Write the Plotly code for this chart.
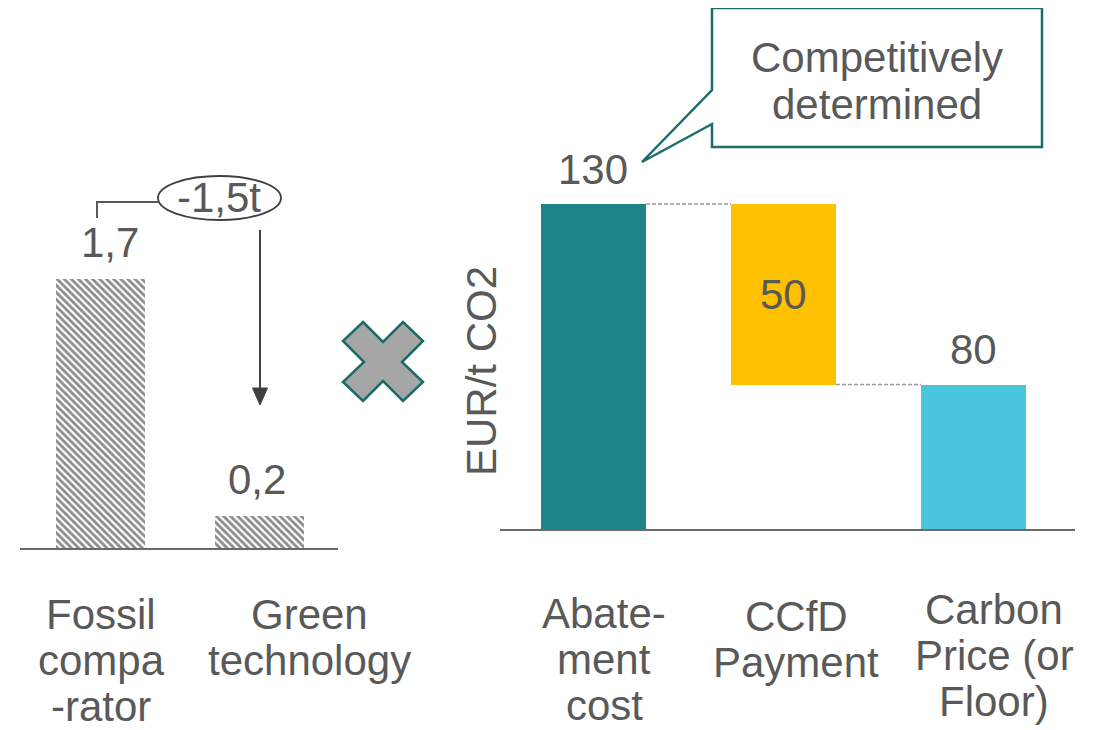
import plotly.graph_objects as go

W, H = 1101, 730
OFF = 8  # page body margin in the browser

# ---------------- data ----------------
left_categories = ["Fossil<br>compa<br>-rator", "Green<br>technology"]
left_values = [1.7, 0.2]
reduction_label = "-1,5t"

right_categories = ["Abate-<br>ment<br>cost", "CCfD<br>Payment", "Carbon<br>Price (or<br>Floor)"]
right_values = [130, 50, 80]
right_bases = [0, 80, 0]
right_colors = ["#1F8489", "#FFC000", "#4BC5DD"]
y_title = "EUR/t CO2"
callout_lines = ["Competitively", "determined"]

# ---------------- layout helpers ----------------
FONT = "Liberation Sans, Arial, sans-serif"
TXT = "#595959"
FS = 42


def X(px):
    return (px - OFF) / W


def Y(py):
    return 1 - (py - OFF) / H


fig = go.Figure()

# left: hatched bars
fig.add_trace(go.Bar(
    x=list(range(len(left_values))), y=left_values, width=0.56,
    marker=dict(color="white", line=dict(width=0),
                pattern=dict(shape="\\", size=5, solidity=0.55,
                             fgcolor="#1A1A1A", bgcolor="white")),
    xaxis="x", yaxis="y", showlegend=False, hoverinfo="skip",
))

# right: floating bars
fig.add_trace(go.Bar(
    x=list(range(len(right_values))), y=right_values, base=right_bases,
    width=0.553, marker=dict(color=right_colors, line=dict(width=0)),
    xaxis="x2", yaxis="y2", showlegend=False, hoverinfo="skip",
))

left_px_per_unit = 269 / 1.7
right_px_per_unit = 325 / 90

fig.update_layout(
    width=W, height=H, margin=dict(l=0, r=0, t=0, b=0),
    paper_bgcolor="white", plot_bgcolor="white",
    font=dict(family=FONT, color=TXT, size=FS),
    bargap=0,
    xaxis=dict(domain=[X(20), X(338)], range=[-0.506, 1.494], anchor="y",
               showgrid=False, zeroline=False, showticklabels=False, ticks="",
               showline=True, linecolor="#6A6A6A", linewidth=2),
    yaxis=dict(domain=[Y(548), Y(150)], range=[0, (548 - 150) / left_px_per_unit],
               anchor="x", showgrid=False, zeroline=False, showticklabels=False,
               showline=False),
    xaxis2=dict(domain=[X(500), X(1075)], range=[-0.492, 2.534], anchor="y2",
                showgrid=False, zeroline=False, showticklabels=False, ticks="",
                showline=True, linecolor="#6A6A6A", linewidth=2),
    yaxis2=dict(domain=[Y(529), Y(100)], range=[40, 40 + (529 - 100) / right_px_per_unit],
                anchor="x2", showgrid=False, zeroline=False, showticklabels=False,
                showline=False),
)

ann = []
shapes = []

# value labels left
left_xshift = [10, -2]
for i, v in enumerate(left_values):
    ann.append(dict(x=i, y=v, xref="x", yref="y", yshift=37, xshift=left_xshift[i],
                    text=f"{v:.1f}".replace(".", ","), showarrow=False,
                    font=dict(size=FS, color=TXT), yanchor="middle"))

# value labels right
for i, (v, b) in enumerate(zip(right_values, right_bases)):
    if b > 0:
        ann.append(dict(x=i, y=b + v / 2, xref="x2", yref="y2",
                        text=f"{v}", showarrow=False,
                        font=dict(size=FS, color=TXT), yanchor="middle"))
    else:
        ann.append(dict(x=i, y=b + v, xref="x2", yref="y2", yshift=35,
                        text=f"{v}", showarrow=False,
                        font=dict(size=FS, color=TXT), yanchor="middle"))

# category labels (one annotation per line)
left_label_x = [101, 309]
left_label_y = [614, 614]
right_label_x = [604, 796, 994]
right_label_y = [613, 616, 609]
PITCH = 46
for cats, xs, ys in ((left_categories, left_label_x, left_label_y),
                     (right_categories, right_label_x, right_label_y)):
    for c, cx, cy in zip(cats, xs, ys):
        for j, line in enumerate(c.split("<br>")):
            ann.append(dict(x=X(cx), y=Y(cy + PITCH * j), xref="paper", yref="paper",
                            text=line, showarrow=False, xanchor="center", yanchor="middle",
                            font=dict(size=FS, color=TXT)))

# y-axis title
ann.append(dict(x=X(481), y=Y(371), xref="paper", yref="paper", text=y_title,
                textangle=-90, showarrow=False, xanchor="center", yanchor="middle",
                font=dict(size=FS, color=TXT)))

# callout text
for j, line in enumerate(callout_lines):
    ann.append(dict(x=X(877), y=Y(57 + 47 * j), xref="paper", yref="paper", text=line,
                    showarrow=False, xanchor="center", yanchor="middle",
                    font=dict(size=FS, color=TXT)))

# reduction ellipse label
ann.append(dict(x=X(219), y=Y(198), xref="paper", yref="paper", text=reduction_label,
                showarrow=False, xanchor="center", yanchor="middle",
                font=dict(size=FS, color=TXT)))

# dashed connectors
half = 0.553 / 2
shapes.append(dict(type="line", xref="x2", yref="y2", x0=0 + half, x1=1 - half,
                   y0=right_bases[0] + right_values[0], y1=right_bases[0] + right_values[0],
                   line=dict(color="#9A9A9A", width=1.5, dash="4px,2px")))
shapes.append(dict(type="line", xref="x2", yref="y2", x0=1 + half, x1=2 - half,
                   y0=right_bases[1], y1=right_bases[1],
                   line=dict(color="#9A9A9A", width=1.5, dash="4px,2px")))

# bracket
shapes.append(dict(type="path", xref="paper", yref="paper",
                   path=f"M{X(97)},{Y(218)} L{X(97)},{Y(202)} L{X(158)},{Y(202)}",
                   line=dict(color="#595959", width=2)))
# ellipse
shapes.append(dict(type="circle", xref="paper", yref="paper",
                   x0=X(158), x1=X(281), y0=Y(220), y1=Y(176),
                   line=dict(color="#404040", width=1.8), fillcolor="rgba(0,0,0,0)"))
# arrow
shapes.append(dict(type="line", xref="paper", yref="paper",
                   x0=X(260), x1=X(260), y0=Y(230), y1=Y(392),
                   line=dict(color="#404040", width=2)))
shapes.append(dict(type="path", xref="paper", yref="paper",
                   path=f"M{X(252.5)},{Y(388)} L{X(267.5)},{Y(388)} L{X(260)},{Y(405)} Z",
                   line=dict(color="#404040", width=1), fillcolor="#404040"))

# multiplication cross
cross = [(363, 322), (383, 342), (403, 322), (423, 341), (402, 362), (423, 382),
         (403, 401), (383, 381), (363, 401), (343, 382), (364, 362), (343, 341)]
p = "M" + " L".join(f"{X(a)},{Y(b)}" for a, b in cross) + " Z"
shapes.append(dict(type="path", xref="paper", yref="paper", path=p,
                   line=dict(color="#1B6B6B", width=2.5), fillcolor="#A6A6A6"))

# callout box
call = [(712, 8), (1042, 8), (1042, 147), (712, 147), (712, 124), (642, 162), (712, 90)]
p = "M" + " L".join(f"{X(a)},{Y(b)}" for a, b in call) + " Z"
shapes.append(dict(type="path", xref="paper", yref="paper", path=p,
                   line=dict(color="#1E6B6B", width=2.5), fillcolor="white", layer="below"))

fig.update_layout(annotations=ann, shapes=shapes)
fig.write_html("out.html")
